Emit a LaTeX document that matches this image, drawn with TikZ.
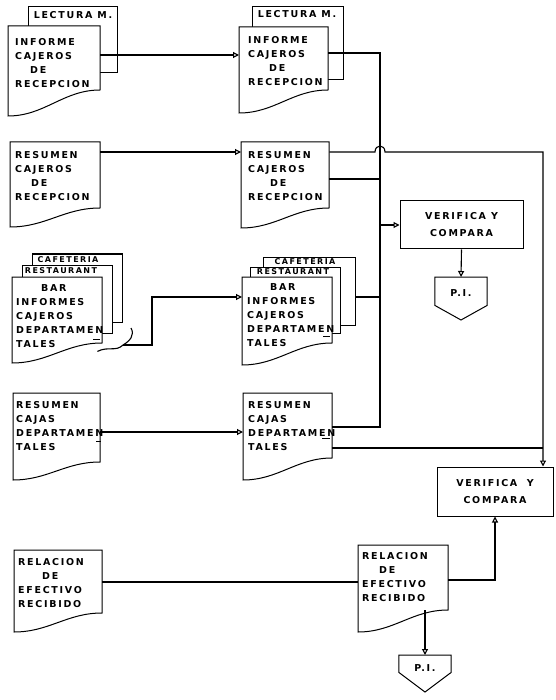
\documentclass[tikz,border=0pt]{standalone}
\usepackage{fontspec}
\newfontfamily\docfont{DejaVu Sans}[UprightFont={* Bold},LetterSpace=18]
\usetikzlibrary{arrows.meta,calc}
\tikzset{
  x=1pt,y=-1pt,
  docline/.style={line width=1pt, fill=white, draw=black},
  box/.style={inner sep=0pt, draw=none, rectangle},
  txt/.style={font=\docfont\fontsize{9.5}{14}\selectfont, align=left, inner sep=0pt, anchor=north west},
  lbl/.style={font=\docfont\fontsize{9.5}{10}\selectfont, inner sep=0pt},
  slbl/.style={font=\docfont\fontsize{8}{9}\selectfont, inner sep=0pt},
  vbox/.style={draw, line width=1pt, fill=white, inner sep=0pt, align=center,
    font=\docfont\fontsize{9.5}{17}\selectfont},
  conn/.style={line width=1.1pt},
  arr/.style={conn, -{Triangle[open,length=6pt,width=6pt]}},
  tick/.style={line width=0.9pt},
}
% name, left, top, right, right-bottom, left-bottom
\newcommand\docshape[6]{%
  \node[box, minimum width={#4-#2}, minimum height={#5-#3}, anchor=north west] (#1) at (#2,#3) {};
  \filldraw[docline] (#2,#3) -- (#4,#3) -- (#4,#5)
    .. controls ({#4-0.4*(#4-#2)},#5) and ({#2+0.4*(#4-#2)},#6) .. (#2,#6) -- cycle;
}
% name, left, top, right, bottom
\newcommand\sheetshape[5]{%
  \node[box, minimum width={#4-#2}, minimum height={#5-#3}, anchor=north west] (#1) at (#2,#3) {};
  \filldraw[docline] (#2,#3) rectangle (#4,#5);
}
% off-page connector: name, center x, top, bottom of sides, point
\newcommand\pishape[5]{%
  \node[box, minimum width=52, minimum height={#4-#3}, anchor=north] (#1) at (#2,#3) {};
  \filldraw[docline] (#1.north west) -- (#1.north east) -- (#1.south east) -- (#2,#5) -- (#1.south west) -- cycle;
}
\begin{document}
\begin{tikzpicture}
\useasboundingbox (0,0) rectangle (555,700);

% ---------- left column ----------
\sheetshape{L1b}{28}{7}{117}{73}
\node[lbl] (L1l) at (73,15) {LECTURA M.};
\docshape{L1}{8}{26}{100}{90}{116}
\node[txt] (L1t) at (15,38.5) {INFORME\\CAJEROS\\\hspace*{15pt}DE\\RECEPCION};

\docshape{L2}{10}{142}{100}{208}{227}
\node[txt] (L2t) at (15,151.5) {RESUMEN\\CAJEROS\\\hspace*{16pt}DE\\RECEPCION};

\sheetshape{L3c}{32}{254}{122}{322}
\node[slbl] (L3cl) at (68,260) {CAFETERIA};
\sheetshape{L3r}{22}{265}{112}{333}
\node[slbl] (L3rl) at (61,271) {RESTAURANT};
\docshape{L3}{12}{277}{102}{343}{363}
\node[txt] (L3t) at (16,284.5) {\hspace*{25pt}BAR\\INFORMES\\CAJEROS\\DEPARTAMEN\\TALES};
\draw[tick] (93,339) -- (100,339);

\docshape{L4}{13}{393}{100}{462}{480}
\node[txt] (L4t) at (16,401.5) {RESUMEN\\CAJAS\\DEPARTAMEN\\TALES};
\draw[tick] (96,441) -- (101,441);

\docshape{RL}{14}{550}{102}{613}{632}
\node[txt] (RLt) at (18,558.5) {RELACION\\\hspace*{24pt}DE\\EFECTIVO\\RECIBIDO};

% ---------- middle column ----------
\sheetshape{M1b}{252}{7}{343}{80}
\node[lbl] (M1l) at (297,14) {LECTURA M.};
\docshape{M1}{239}{27}{328}{90}{113}
\node[txt] (M1t) at (248,36.5) {INFORME\\CAJEROS\\\hspace*{21pt}DE\\RECEPCION};

\docshape{M2}{241}{142}{329}{208}{228}
\node[txt] (M2t) at (248,151.5) {RESUMEN\\CAJEROS\\\hspace*{22pt}DE\\RECEPCION};

\sheetshape{M3c}{263}{257}{355}{325}
\node[slbl] (M3cl) at (305,262) {CAFETERIA};
\sheetshape{M3r}{250}{267}{340}{333}
\node[slbl] (M3rl) at (293,272) {RESTAURANT};
\docshape{M3}{242}{277}{332}{343}{365}
\node[txt] (M3t) at (247,283.5) {\hspace*{23pt}BAR\\INFORMES\\CAJEROS\\DEPARTAMEN\\TALES};
\draw[tick] (323,336) -- (330,336);

\docshape{M4}{243}{393}{332}{458}{480}
\node[txt] (M4t) at (248,401.5) {RESUMEN\\CAJAS\\DEPARTAMEN\\TALES};
\draw[tick] (322,438) -- (330,438);

\docshape{RM}{358}{545}{448}{610}{632}
\node[txt] (RMt) at (362,552.5) {RELACION\\\hspace*{17pt}DE\\EFECTIVO\\RECIBIDO};

% ---------- right column ----------
\node[vbox, minimum width=123, minimum height=48] (V1) at (461.5,225) {VERIFICA Y\\COMPARA};
\pishape{PI1}{461}{277}{305}{320}
\node[lbl] (PI1t) at (461,293) {P.I.};

\node[vbox, minimum width=116, minimum height=49] (V2) at (495,491.5) {VERIFICA\quad Y\\COMPARA};
\pishape{PI2}{425}{655}{672}{692}
\node[lbl] (PI2t) at (425,668) {P.I.};

% ---------- connectors ----------
\draw[arr] (L1.east |- 0,55) -- (M1.west |- 0,55);
\draw[arr] (L2.east |- 0,152) -- (M2.west |- 0,152);
\coordinate (sq) at (123,345);
\draw[conn] ($(L3.south east)+(-5,8)$) .. controls (108,346) and (116,352) .. (sq)
  .. controls (130,341) and (135,335) .. (131,328);
\draw[arr] (sq) -- (152,345) -- (152,297) -- (M3.west |- 0,297);
\draw[arr] (L4.east |- 0,432) -- (M4.west |- 0,432);
\draw[conn] (RL.east |- 0,582) -- (RM.west |- 0,582);

\draw[conn] (M1.east |- 0,53) -| (380,427) -- (M4.east |- 0,427);
\draw[conn] (M2.east |- 0,179) -- (380,179);
\draw[conn] (M3c.east |- 0,297) -- (380,297);
\draw[arr] (380,225) -- (V1.west);
\draw[arr] (V1.south) -- (PI1.north);

\draw[arr] (M2.east |- 0,152) -- (375,152) .. controls (375,144) and (385,144) .. (385,152)
  -| (V2.north -| 543,0);
\draw[conn] (M4.east |- 0,448) -- (543,448);
\draw[arr] (RM.east |- 0,580) -| (V2.south);
\draw[arr] (PI2.north |- RM.south) -- (PI2.north);
\end{tikzpicture}
\end{document}
